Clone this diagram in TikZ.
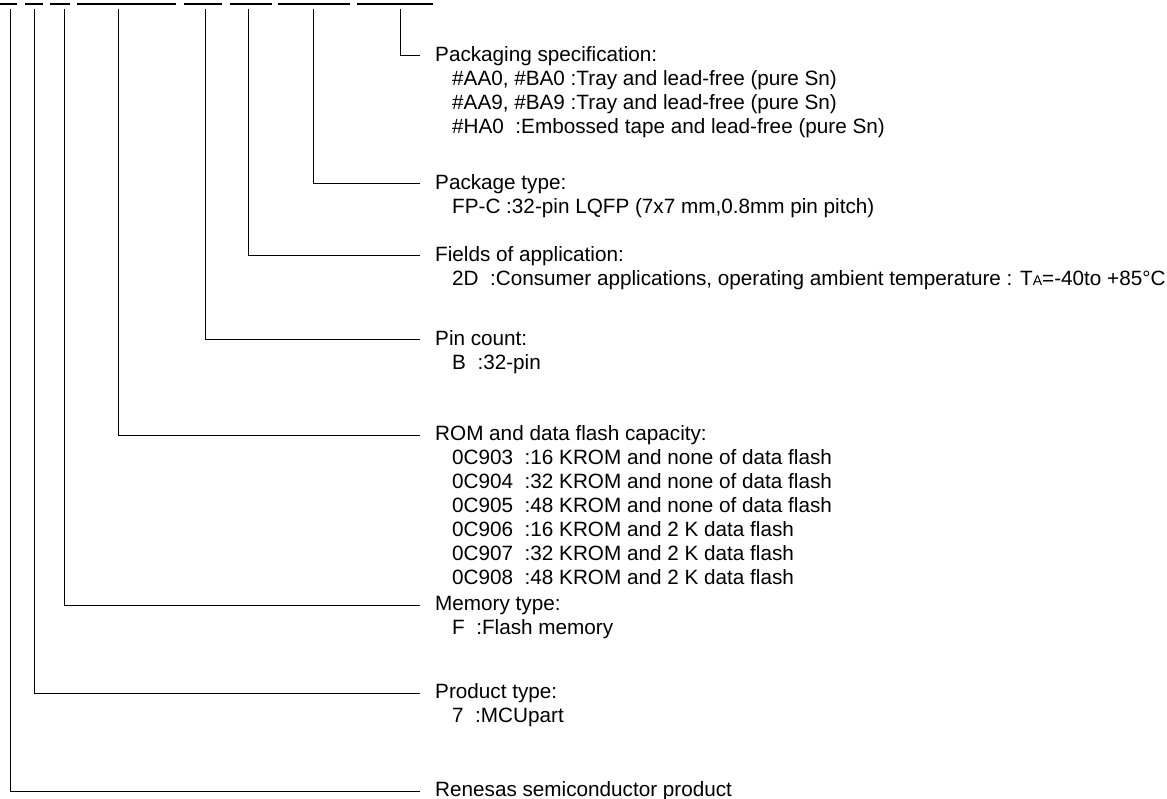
\documentclass[tikz,border=0pt]{standalone}
\usepackage{fontspec}
\setmainfont{Liberation Sans}
\usetikzlibrary{positioning}
\tikzset{
  lbl/.style={anchor=west, inner xsep=15pt, inner ysep=0pt, text height=15pt, text depth=4pt, font=\fontsize{20.7}{24}\selectfont},
  item/.style={lbl, inner xsep=0pt},
  lead/.style={line width=1pt},
  uline/.style={line width=1.6pt}
}
\newcommand{\smallA}{{\fontsize{14}{14}\selectfont A}}

\begin{document}
\begin{tikzpicture}[x=1pt,y=-1pt]
  \useasboundingbox (0,0) rectangle (1167,799);

  % underlines of the part number fields
  \draw[uline] (0,4) -- (17,4) (25,4) -- (43,4) (50,4) -- (70,4) (77,4) -- (176,4)
    (184,4) -- (222,4) (230,4) -- (272,4) (278,4) -- (350,4) (357,4) -- (433,4);

  % top ends of the leads
  \coordinate (tR) at (10,9);
  \coordinate (t7) at (34,9);
  \coordinate (tF) at (64,9);
  \coordinate (tROM) at (118,9);
  \coordinate (tB) at (205,9);
  \coordinate (t2D) at (248,9);
  \coordinate (tFPC) at (313,9);
  \coordinate (tAA0) at (400,9);

  % Packaging specification
  \node[lbl] (pkgspec) at (420,56) {Packaging specification:};
  \foreach \t [count=\i] in {{\#AA0, \#BA0 :Tray and lead-free (pure Sn)},
      {\#AA9, \#BA9 :Tray and lead-free (pure Sn)},
      {\#HA0\ \ :Embossed tape and lead-free (pure Sn)}}
    \node[item] (pkgspec-\i) at (452,56+24*\i) {\t};
  \draw[lead] (tAA0) |- (pkgspec.west);

  % Package type
  \node[lbl] (pkgtype) at (420,184) {Package type:};
  \node[item] (pkgtype-1) at (452,208) {FP-C :32-pin LQFP (7x7 mm,0.8mm pin pitch)};
  \draw[lead] (tFPC) |- (pkgtype.west);

  % Fields of application
  \node[lbl] (appl) at (420,256) {Fields of application:};
  \node[item] (appl-1) at (452,280) {2D\ \ :Consumer applications, operating ambient temperature : T\smallA=-40to +85°C};
  \draw[lead] (t2D) |- (appl.west);

  % Pin count
  \node[lbl] (pins) at (420,340) {Pin count:};
  \node[item] (pins-1) at (452,364) {B\ \ :32-pin};
  \draw[lead] (tB) |- (pins.west);

  % ROM and data flash capacity
  \node[lbl] (rom) at (420,435) {ROM and data flash capacity:};
  \foreach \t [count=\i] in {{0C903\ \ :16 KROM and none of data flash},
      {0C904\ \ :32 KROM and none of data flash},
      {0C905\ \ :48 KROM and none of data flash},
      {0C906\ \ :16 KROM and 2 K data flash},
      {0C907\ \ :32 KROM and 2 K data flash},
      {0C908\ \ :48 KROM and 2 K data flash}}
    \node[item] (rom-\i) at (452,435+24*\i) {\t};
  \draw[lead] (tROM) |- (rom.west);

  % Memory type
  \node[lbl] (mem) at (420,605) {Memory type:};
  \node[item] (mem-1) at (452,629) {F\ \ :Flash memory};
  \draw[lead] (tF) |- (mem.west);

  % Product type
  \node[lbl] (prod) at (420,693) {Product type:};
  \node[item] (prod-1) at (452,717) {7\ \ :MCUpart};
  \draw[lead] (t7) |- (prod.west);

  % Renesas
  \node[lbl] (ren) at (420,791) {Renesas semiconductor product};
  \draw[lead] (tR) |- (ren.west);
\end{tikzpicture}
\end{document}
